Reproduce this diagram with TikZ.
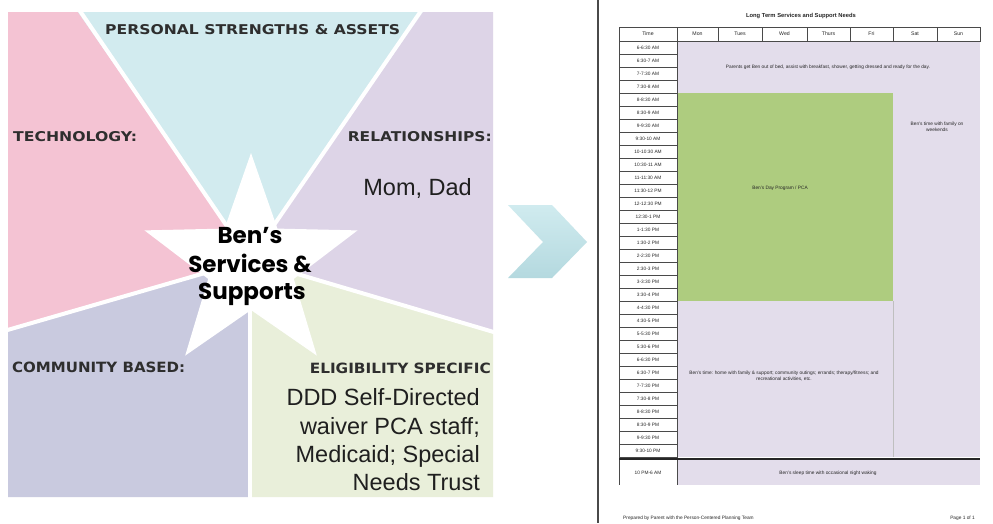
\documentclass[tikz,border=0pt]{standalone}
\usepackage{graphicx}
\usepackage{fontspec}
\setmainfont{Liberation Sans}
\newfontfamily\labelfont{DejaVu Sans}
\newfontfamily\starfont{Poppins}
\newcommand\caplabel[3]{\resizebox{#1}{#2}{\labelfont\bfseries #3}}
\definecolor{pinkc}{HTML}{F4C3D3}
\definecolor{cyanc}{HTML}{D2EBEF}
\definecolor{purpc}{HTML}{DDD4E7}
\definecolor{commc}{HTML}{C9CADF}
\definecolor{greenc}{HTML}{E9EFDA}
\definecolor{tpurp}{HTML}{E3DDEB}
\definecolor{tgreen}{HTML}{AECC7F}
\definecolor{chevtop}{HTML}{D0EBEF}
\definecolor{chevbot}{HTML}{B4D9DF}
\definecolor{labgray}{HTML}{2E2E2E}
\definecolor{gridc}{HTML}{4A4A4A}
\tikzset{
  gaps/.style={white, line width=4pt},
  catlabel/.style={inner sep=0pt, text=labgray},
  bigtext/.style={inner sep=0pt, text=black!88, font=\fontsize{23.5}{28}\selectfont},
  startext/.style={inner sep=0pt, text=black, font=\starfont\bfseries\fontsize{23}{28}\selectfont},
  tinytext/.style={inner sep=0pt, text=black!85, font=\fontsize{4.8}{5.8}\selectfont},
  cellbox/.style={draw=gridc, line width=0.6pt},
}
\begin{document}
\begin{tikzpicture}[x=1pt,y=-1pt]
\useasboundingbox (0,0) rectangle (993,523);
\fill[white] (0,0) rectangle (993,523);
% ---------- left panel regions ----------
\coordinate (C) at (250,260);
\fill[pinkc] (8,12) -- (78,12) -- (C) -- (8,330) -- cycle;
\fill[cyanc] (78,12) -- (423,12) -- (C) -- cycle;
\fill[purpc] (423,12) -- (493,12) -- (493,332) -- (C) -- cycle;
\fill[commc] (8,330) -- (C) -- (250,497) -- (8,497) -- cycle;
\fill[greenc] (C) -- (493,332) -- (493,497) -- (250,497) -- cycle;
\draw[gaps] (78,8) -- (C) -- (423,8);
\draw[gaps] (4,331) -- (C) -- (497,333);
\draw[gaps] (C) -- (250,501);
% star
\fill[white] (251,153) \foreach \k in {0,...,4}{ -- ({251+45*cos(-54+72*\k)},{265+45*sin(-54+72*\k)}) -- ({251+112*cos(-18+72*\k)},{265+112*sin(-18+72*\k)}) } -- cycle;
% category labels
\node[catlabel, anchor=south west] (lpers) at (105,35) {\caplabel{295pt}{10pt}{PERSONAL STRENGTHS \& ASSETS}};
\node[catlabel, anchor=south west] (ltech) at (13,142) {\caplabel{124pt}{10pt}{TECHNOLOGY:}};
\node[catlabel, anchor=south east] (lrel) at (492,142) {\caplabel{144pt}{10pt}{RELATIONSHIPS:}};
\node[catlabel, anchor=south west] (lcomm) at (12,373) {\caplabel{173pt}{10.5pt}{COMMUNITY BASED:}};
\node[catlabel, anchor=south east] (lelig) at (491,374) {\caplabel{181pt}{10.5pt}{ELIGIBILITY SPECIFIC}};
% texts
\node[bigtext, anchor=base east] (mom) at (472,195) {Mom, Dad};
\node[bigtext, anchor=base east] (e1) at (480,405) {DDD Self-Directed};
\node[bigtext, anchor=base east] (e2) at (480,434) {waiver PCA staff;};
\node[bigtext, anchor=base east] (e3) at (480,462) {Medicaid; Special};
\node[bigtext, anchor=base east] (e4) at (480,490) {Needs Trust};
\node[startext, anchor=base] (s1) at (250,243) {Ben’s};
\node[startext, anchor=base] (s2) at (250,272) {Services \&};
\node[startext, anchor=base] (s3) at (252,299) {Supports};
% ---------- chevron ----------
\shade[top color=chevtop, bottom color=chevbot] (508,205) -- (552,205) -- (587,242) -- (552,278) -- (508,278) -- (543,242) -- cycle;
% ---------- divider ----------
\draw[gridc, line width=1.6pt] (598,0) -- (598,523);
% ---------- schedule table ----------
\fill[tpurp] (677,41) rectangle (980,93);
\fill[tgreen] (677,93) rectangle (893,301);
\fill[tpurp] (893,93) rectangle (980,457);
\fill[tpurp] (677,301) rectangle (893,457);
\fill[tpurp] (677,460) rectangle (980,485);
\draw[black!25, line width=0.4pt] (893,301) -- (893,457);
% header row
\draw[cellbox] (619,27) rectangle (980,41);
\foreach \xx in {677,718,762,807,850,893,937}{ \draw[cellbox] (\xx,27) -- (\xx,41); }
% time column
\draw[cellbox, line width=0.8pt] (619,27) -- (619,485);
\draw[cellbox, line width=0.8pt] (677,27) -- (677,485);
\foreach \i in {1,...,32}{ \draw[cellbox] (619,{41+13*\i}) -- (677,{41+13*\i}); }
\draw[black!85, line width=2.2pt] (619,459) -- (980,459);
% title and headers
\node[inner sep=0pt, font=\bfseries\fontsize{5.8}{6}\selectfont, text=black!85] (title) at (801,16) {Long Term Services and Support Needs};
\foreach \lab/\cx [count=\j] in {Time/648, Mon/697.5, Tues/740, Wed/784.5, Thurs/828.5, Fri/871.5, Sat/915, Sun/958.5}{
  \node[tinytext, font=\fontsize{5.2}{6}\selectfont] (h\j) at (\cx,34) {\lab};
}
\foreach \t [count=\i from 0] in {6-6:30 AM, 6:30-7 AM, 7-7:30 AM, 7:30-8 AM, 8-8:30 AM, 8:30-9 AM, 9-9:30 AM, 9:30-10 AM, 10-10:30 AM, 10:30-11 AM, 11-11:30 AM, 11:30-12 PM, 12-12:30 PM, 12:30-1 PM, 1-1:30 PM, 1:30-2 PM, 2-2:30 PM, 2:30-3 PM, 3-3:30 PM, 3:30-4 PM, 4-4:30 PM, 4:30-5 PM, 5-5:30 PM, 5:30-6 PM, 6-6:30 PM, 6:30-7 PM, 7-7:30 PM, 7:30-8 PM, 8-8:30 PM, 8:30-9 PM, 9-9:30 PM, 9:30-10 PM}{
  \node[tinytext] (t\i) at (648,{47.5+13*\i}) {\t};
}
\node[tinytext] (tn) at (648,473) {10 PM-6 AM};
% cell texts
\node[tinytext] (c1) at (828,67) {Parents get Ben out of bed, assist with breakfast, shower, getting dressed and ready for the day.};
\node[tinytext] (c2) at (780,188) {Ben's Day Program / PCA};
\node[tinytext, align=center] (c3) at (937,127) {Ben's time with family on\\weekends};
\node[tinytext, align=center] (c4) at (784,376) {Ben's time: home with family \& support; community outings; errands; therapy/fitness; and\\recreational activities, etc.};
\node[tinytext] (c5) at (828,473) {Ben's sleep time with occasional night waking};
% footer
\node[tinytext, anchor=west] (f1) at (623,518) {Prepared by Parent with the Person-Centered Planning Team};
\node[tinytext, anchor=east] (f2) at (975,518) {Page 1 of 1};
\end{tikzpicture}
\end{document}
